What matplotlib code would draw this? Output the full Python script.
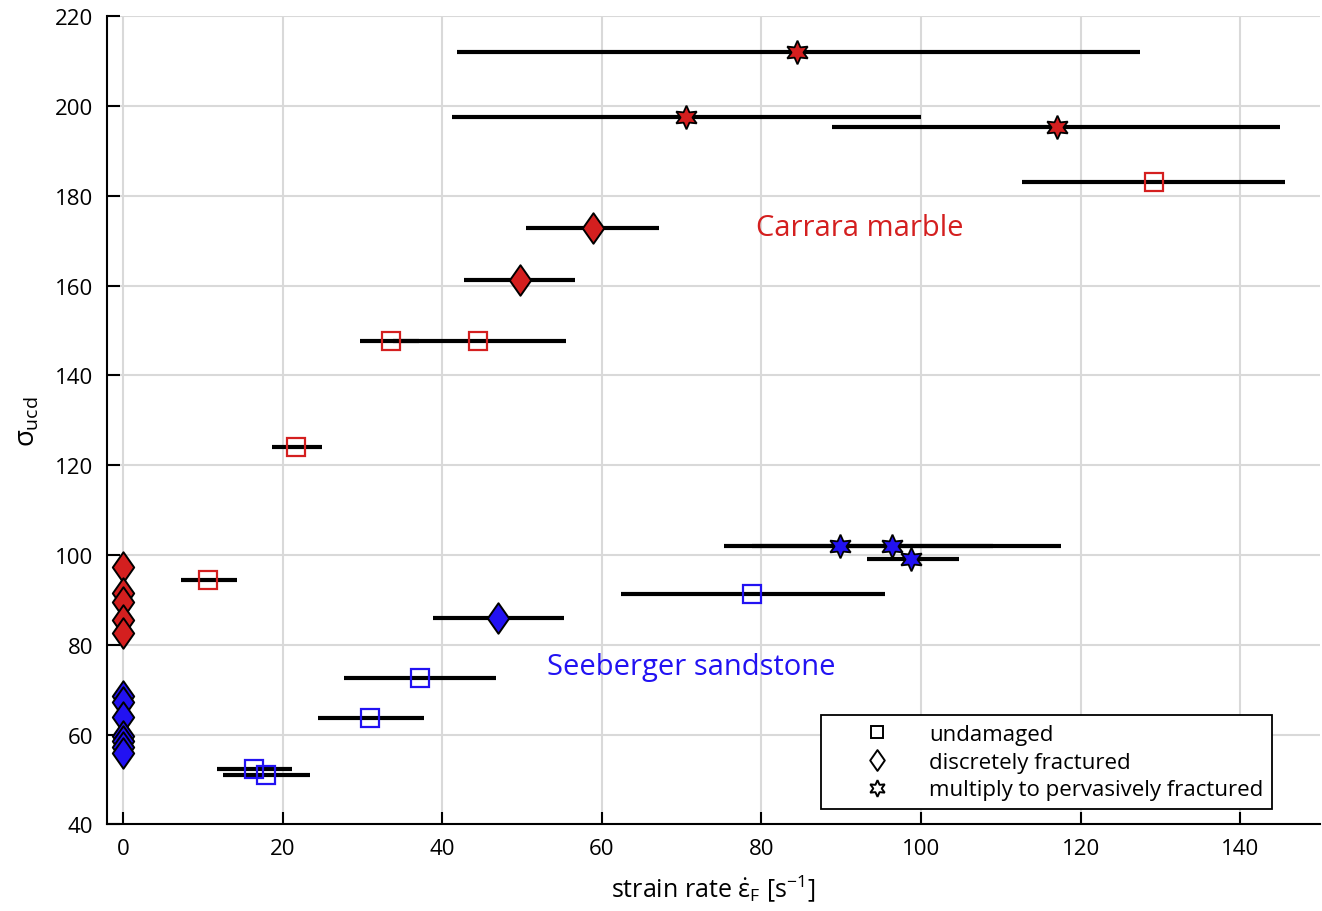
import numpy as np
import matplotlib
matplotlib.use('Agg')
import matplotlib.pyplot as plt
from matplotlib.lines import Line2D
from matplotlib.path import Path

plt.rcParams['font.family'] = ['Open Sans', 'DejaVu Sans']
plt.rcParams['mathtext.fontset'] = 'custom'
plt.rcParams['mathtext.rm'] = 'Open Sans'
plt.rcParams['mathtext.it'] = 'Open Sans'

RED = '#d41f1f'
BLUE = '#2212f2'

# ---- Carrara marble (red) ----
cm_sq_x = [129.2, 33.6, 44.5, 21.7, 10.6]
cm_sq_y = [183.0, 147.6, 147.6, 124.0, 94.5]
cm_sq_lo = [112.6, 29.7, 33.8, 18.7, 7.3]
cm_sq_hi = [145.6, 37.1, 55.5, 24.9, 14.3]

cm_di_x = [58.9, 49.7]
cm_di_y = [172.8, 161.2]
cm_di_lo = [50.5, 42.7]
cm_di_hi = [67.2, 56.7]

cm_st_x = [84.5, 70.5, 117.0]
cm_st_y = [212.0, 197.5, 195.3]
cm_st_lo = [41.8, 41.2, 88.9]
cm_st_hi = [127.5, 100.0, 145.0]

cm_zero_y = [97.3, 91.6, 89.5, 85.6, 82.7]

# ---- Seeberger sandstone (blue) ----
ss_sq_x = [78.8, 37.2, 30.9, 16.4, 17.9]
ss_sq_y = [91.3, 72.6, 63.7, 52.3, 51.1]
ss_sq_lo = [62.4, 27.7, 24.4, 11.8, 12.5]
ss_sq_hi = [95.5, 46.8, 37.7, 21.2, 23.4]

ss_di_x = [47.0]
ss_di_y = [86.0]
ss_di_lo = [38.8]
ss_di_hi = [55.3]

ss_st_x = [89.9, 96.4, 98.8]
ss_st_y = [102.0, 102.0, 99.2]
ss_st_lo = [75.3, 78.8, 93.2]
ss_st_hi = [109.0, 117.6, 104.8]

ss_zero_y = [68.6, 67.3, 64.0, 59.6, 58.5, 57.3, 55.8]

STAR = (6, 1, 0)
# matlab style diamond, a bit taller than wide
DIAMOND = Path([(0, 1), (0.7, 0), (0, -1), (-0.7, 0), (0, 1)],
               [Path.MOVETO, Path.LINETO, Path.LINETO, Path.LINETO, Path.CLOSEPOLY])
DMS = 22

fig = plt.figure(figsize=(13.22, 9.12), dpi=100)
ax = fig.add_axes([0.081, 0.095, 0.9175, 0.886])


def bars(x, y, lo, hi):
    ax.hlines(y, lo, hi, colors='black', linewidth=3.0, zorder=3)


for grp in [(cm_sq_x, cm_sq_y, cm_sq_lo, cm_sq_hi), (cm_di_x, cm_di_y, cm_di_lo, cm_di_hi),
            (cm_st_x, cm_st_y, cm_st_lo, cm_st_hi), (ss_sq_x, ss_sq_y, ss_sq_lo, ss_sq_hi),
            (ss_di_x, ss_di_y, ss_di_lo, ss_di_hi), (ss_st_x, ss_st_y, ss_st_lo, ss_st_hi)]:
    bars(*grp)

# squares (open)
ax.plot(cm_sq_x, cm_sq_y, 's', ms=12.5, mfc='none', mec=RED, mew=1.6, zorder=4)
ax.plot(ss_sq_x, ss_sq_y, 's', ms=12.5, mfc='none', mec=BLUE, mew=1.6, zorder=4)

# diamonds
ax.plot(cm_di_x, cm_di_y, marker=DIAMOND, ls='none', ms=DMS, mfc=RED, mec='black', mew=1.4, zorder=4)
ax.plot(ss_di_x, ss_di_y, marker=DIAMOND, ls='none', ms=DMS, mfc=BLUE, mec='black', mew=1.4, zorder=4)
ax.plot([0] * len(ss_zero_y), ss_zero_y, marker=DIAMOND, ls='none', ms=DMS, mfc=BLUE, mec='black', mew=1.4, zorder=4)
ax.plot([0] * len(cm_zero_y), cm_zero_y, marker=DIAMOND, ls='none', ms=DMS, mfc=RED, mec='black', mew=1.4, zorder=4)

# stars
ax.plot(cm_st_x, cm_st_y, marker=STAR, ls='none', ms=17, mfc=RED, mec='black', mew=1.3, zorder=5)
ax.plot(ss_st_x, ss_st_y, marker=STAR, ls='none', ms=17, mfc=BLUE, mec='black', mew=1.3, zorder=5)

ax.text(92.3, 173, 'Carrara marble', color=RED, fontsize=21, ha='center', va='center')
ax.text(71.2, 75.2, 'Seeberger sandstone', color=BLUE, fontsize=21, ha='center', va='center')

ax.set_xlim(-2, 150)
ax.set_ylim(40, 220)
ax.set_xticks(np.arange(0, 141, 20))
ax.set_yticks(np.arange(40, 221, 20))
ax.grid(True, color='#d9d9d9', linewidth=1.5, zorder=0)
ax.set_axisbelow(True)
ax.spines['top'].set_visible(False)
ax.spines['right'].set_visible(False)
ax.spines['left'].set_linewidth(1.5)
ax.spines['bottom'].set_linewidth(1.5)
ax.tick_params(direction='in', length=9, width=1.5, labelsize=16, pad=10)

ax.set_xlabel(r'strain rate $\dot{\varepsilon}_{\rm F}$ [s$^{-1}$]', fontsize=18, labelpad=9)
ax.set_ylabel(r'$\sigma_{\rm ucd}$', fontsize=20, labelpad=10)

handles = [
    Line2D([], [], marker='s', ls='none', ms=9, mfc='none', mec='black', mew=1.4),
    Line2D([], [], marker=DIAMOND, ls='none', ms=15, mfc='none', mec='black', mew=1.4),
    Line2D([], [], marker=STAR, ls='none', ms=12, mfc='none', mec='black', mew=1.4),
]
labels = ['undamaged', 'discretely fractured', 'multiply to pervasively fractured']
leg = ax.legend(handles, labels, loc='lower right', bbox_to_anchor=(0.9604, 0.0186),
                fontsize=16, frameon=True, fancybox=False, handlelength=4.2,
                handletextpad=0.25, labelspacing=0.3, borderpad=0.4, borderaxespad=0)
leg.get_frame().set_edgecolor('black')
leg.get_frame().set_linewidth(1.3)
leg.get_frame().set_alpha(1)

fig.savefig('out.png', dpi=100)
